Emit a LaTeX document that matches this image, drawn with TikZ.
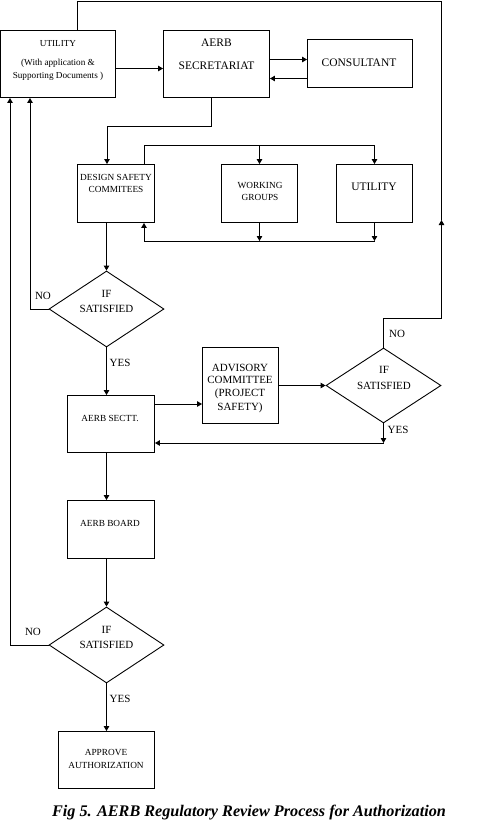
\documentclass[tikz,border=0pt]{standalone}
\usepackage{fontspec}
\setmainfont{Liberation Serif}
\usetikzlibrary{arrows.meta,shapes.geometric}
\begin{document}
\begin{tikzpicture}[x=1pt,y=-1pt,line width=0.9pt,
  >={Triangle[length=5pt,width=5.5pt]},
  box/.style={draw,line width=0.9pt,inner sep=0pt,rectangle},
  dia/.style={draw,line width=0.9pt,inner sep=0pt,diamond,minimum width=115,minimum height=76},
  t/.style={inner sep=0pt,text height=0.66em,text depth=0pt},
  fa/.style={t,font=\fontsize{9.2}{10}\selectfont},
  fb/.style={t,font=\fontsize{9.3}{10}\selectfont},
  fc/.style={t,font=\fontsize{11}{12}\selectfont},
  fd/.style={t,font=\fontsize{11.5}{12}\selectfont}]
\useasboundingbox (0,0) rectangle (481,836);
% boxes
\node[box,minimum width=115,minimum height=67] (util) at (58,64) {};
\node[box,minimum width=106,minimum height=67] (aerb) at (216.5,64) {};
\node[box,minimum width=105,minimum height=48] (cons) at (360,63.5) {};
\node[box,minimum width=77,minimum height=58] (dsc) at (116,193.5) {};
\node[box,minimum width=76,minimum height=58] (wg) at (259.5,193.5) {};
\node[box,minimum width=76,minimum height=58] (util2) at (374.5,193.5) {};
\node[dia] (d1) at (106.5,309) {};
\node[box,minimum width=87,minimum height=57] (sectt) at (111,424) {};
\node[box,minimum width=76,minimum height=76] (adv) at (240.5,385.5) {};
\node[dia,minimum height=75] (d2) at (383.5,385.5) {};
\node[box,minimum width=87,minimum height=58] (board) at (111,529.5) {};
\node[dia] (d3) at (106.5,645) {};
\node[box,minimum width=96,minimum height=57] (appr) at (106.5,760) {};
% texts
\node[fa] (tu1) at (58,43) {UTILITY};
\node[fa] (tu2) at (58,62) {(With application \&};
\node[fa] (tu3) at (58,75) {Supporting Documents )};
\node[fd] (ta1) at (216.5,43) {AERB};
\node[fd] (ta2) at (216.5,66) {SECRETARIAT};
\node[fd] (tc) at (359,63) {CONSULTANT};
\node[fb] (td1) at (116,177) {DESIGN SAFETY};
\node[fb] (td2) at (116,189.5) {COMMITEES};
\node[fb] (tw1) at (260,185.5) {WORKING};
\node[fb] (tw2) at (260,197.5) {GROUPS};
\node[fd] (tu4) at (374,187.5) {UTILITY};
\node[fc] (ti1) at (106.5,294) {IF};
\node[fc] (ts1) at (106.5,309) {SATISFIED};
\node[fc] (no1) at (43,296) {NO};
\node[fc] (yes1) at (120,363) {YES};
\node[fb] (tse) at (110,418) {AERB SECTT.};
\node[fc] (tv1) at (240,368) {ADVISORY};
\node[fc] (tv2) at (240,380) {COMMITTEE};
\node[fc] (tv3) at (240,393) {(PROJECT};
\node[fc] (tv4) at (240,407) {SAFETY)};
\node[fc] (ti2) at (384,370.5) {IF};
\node[fc] (ts2) at (384,386) {SATISFIED};
\node[fc] (no2) at (397,334) {NO};
\node[fc] (yes2) at (398,430) {YES};
\node[fb] (tbo) at (110,523.5) {AERB BOARD};
\node[fc] (ti3) at (106.5,630) {IF};
\node[fc] (ts3) at (106.5,645) {SATISFIED};
\node[fc] (no3) at (33,632) {NO};
\node[fc] (yes3) at (120,699.5) {YES};
\node[fb] (tap1) at (106,752) {APPROVE};
\node[fb] (tap2) at (106,765) {AUTHORIZATION};
\node[t,font=\fontsize{16.2}{17}\bfseries\itshape\selectfont] (cap) at (249,813.5) {Fig 5. AERB Regulatory Review Process for Authorization};
% coordinates
\coordinate (a1) at (211,126);
\coordinate (a2) at (107,126);
\coordinate (tb1) at (144,145);
\coordinate (tb2) at (259.5,145);
\coordinate (tb3) at (374.5,145);
\coordinate (bb1) at (144,241);
\coordinate (bb2) at (259.5,241);
\coordinate (bb3) at (374.5,241);
\coordinate (n1) at (30,309);
\coordinate (y2) at (383.5,443);
\coordinate (n2a) at (383.5,318);
\coordinate (n2b) at (441.5,318);
\coordinate (n2c) at (441.5,220);
\coordinate (n2d) at (441.5,1);
\coordinate (n2e) at (77,1);
\coordinate (n3) at (10,645);
% connectors
\draw[->] (util.east |- 0,68.5) -- (aerb.west |- 0,68.5);
\draw[->] (aerb.east |- 0,59.5) -- (cons.west |- 0,59.5);
\draw[->] (cons.west |- 0,78.5) -- (aerb.east |- 0,78.5);
\draw[->] (aerb.south -| a1) -- (a1) -- (a2) -- (dsc.north -| a2);
\draw (dsc.north -| tb1) -- (tb1) -- (tb3);
\draw[->] (tb2) -- (wg.north);
\draw[->] (tb3) -- (util2.north);
\draw[->] (wg.south) -- (bb2);
\draw[->] (util2.south) -- (bb3);
\draw[->] (bb3) -- (bb1) -- (dsc.south -| bb1);
\draw[->] (dsc.south -| d1.north) -- (d1.north);
\draw[->] (d1.west) -- (n1) -- (util.south -| n1);
\draw[->] (d1.south) -- (sectt.north -| d1.south);
\draw[->] (sectt.east |- 0,404) -- (adv.west |- 0,404);
\draw[->] (adv.east) -- (d2.west);
\draw[->] (d2.south) -- (y2);
\draw[->] (y2) -- (sectt.east |- y2);
\draw[->] (d2.north) -- (n2a) -- (n2b) -- (n2c);
\draw (n2c) -- (n2d) -- (n2e) -- (util.north -| n2e);
\draw[->] (sectt.south -| d1.south) -- (board.north -| d1.south);
\draw[->] (board.south -| d3.north) -- (d3.north);
\draw[->] (d3.west) -- (n3) -- (util.south -| n3);
\draw[->] (d3.south) -- (appr.north -| d3.south);
\end{tikzpicture}
\end{document}
